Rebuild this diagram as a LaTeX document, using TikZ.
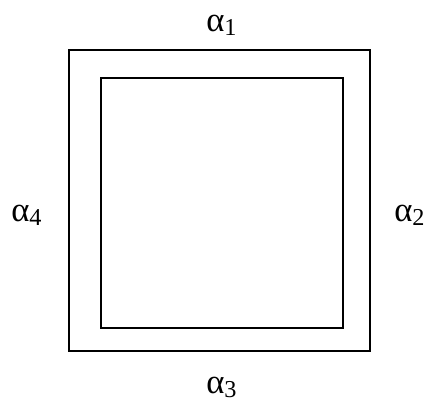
\documentclass[tikz,border=0pt]{standalone}
\usepackage{fontspec}
\setmainfont{Liberation Serif}
\usetikzlibrary{positioning}
\tikzset{
  frameline/.style={draw=black, line width=1.4pt},
  anglelabel/.style={anchor=base west, inner sep=0pt, font=\fontsize{26}{30}\selectfont}
}
\begin{document}
\begin{tikzpicture}[x=0.75pt, y=-0.75pt]
  \useasboundingbox (0,0) rectangle (426,405);
  % outer and inner frames
  \draw[frameline] (69,50) rectangle (370,351);
  \draw[frameline] (101,78) rectangle (343,328);
  % edge labels
  \node[anglelabel] (a1) at (206,31) {α\textsubscript{1}};
  \node[anglelabel] (a2) at (394,221) {α\textsubscript{2}};
  \node[anglelabel] (a3) at (206,393) {α\textsubscript{3}};
  \node[anglelabel] (a4) at (11,221) {α\textsubscript{4}};
\end{tikzpicture}
\end{document}
